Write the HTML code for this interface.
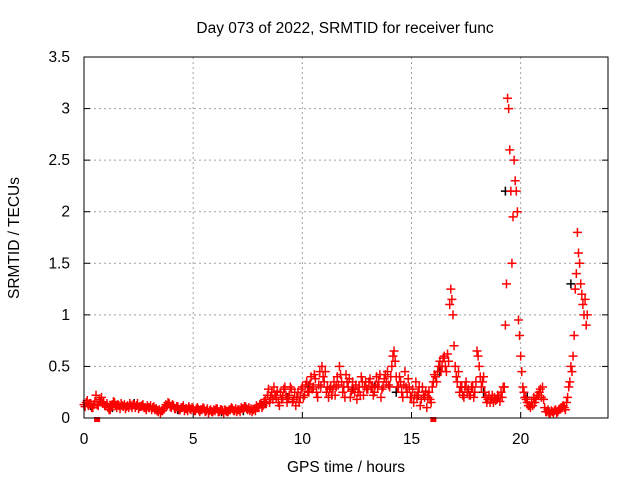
<!DOCTYPE html>
<html><head><meta charset="utf-8"><style>
body{margin:0;background:#fff;width:640px;height:480px;overflow:hidden}
svg text{font-family:"Liberation Sans",sans-serif;font-size:15.5px;fill:#000}
</style></head><body>
<svg id="chart" width="640" height="480">
<text x="345" y="33" text-anchor="middle">Day 073 of 2022, SRMTID for receiver func</text>
<text x="346" y="472" text-anchor="middle">GPS time / hours</text>
<text transform="translate(19,238) rotate(-90)" text-anchor="middle">SRMTID / TECUs</text>
<g id="grid"></g>
<g id="ticks"></g>
<g id="black"></g>
<g id="red"></g>
<rect x="84" y="57" width="524" height="361" fill="none" stroke="#000" stroke-width="1"/>
</svg>
<script>
const xTicks=[0,5,10,15,20];
const yTicks=[0,0.5,1,1.5,2,2.5,3,3.5];
const yTickLabels=["0","0.5","1","1.5","2","2.5","3","3.5"];
const redA=[0.13,0.15,0.12,0.14,0.1,0.16,0.13,0.18,0.2,0.15,
0.12,0.1,0.08,0.13,0.15,0.1,0.12,0.14,0.11,0.09,
0.12,0.14,0.1,0.13,0.12,0.09,0.11,0.13,0.1,0.12,
0.1,0.08,0.11,0.09,0.06,0.05,0.07,0.1,0.12,0.14,
0.1,0.12,0.09,0.11,0.08,0.1,0.07,0.09,0.11,0.08,
0.09,0.07,0.1,0.06,0.08,0.09,0.07,0.05,0.08,0.06,
0.07,0.09,0.06,0.08,0.05,0.07,0.06,0.08,0.09,0.07,
0.06,0.08,0.1,0.09,0.11,0.08,0.07,0.06,0.09,0.12,
0.1,0.14,0.12,0.18,0.22,0.15,0.25,0.3,0.2,0.15,
0.25,0.2,0.3,0.15,0.22,0.28,0.18,0.12,0.25,0.2,
0.3,0.22,0.35,0.25,0.4,0.3,0.38,0.2,0.45,0.5,
0.35,0.25,0.2,0.3,0.28,0.22,0.4,0.5,0.35,0.3,
0.42,0.3,0.2,0.35,0.25,0.18,0.3,0.4,0.22,0.35,
0.28,0.38,0.3,0.25,0.4,0.35,0.2,0.3,0.42,0.45,
0.3,0.5,0.65,0.4,0.3,0.35,0.2,0.45,0.25,0.3,
0.2,0.15,0.35,0.25,0.12,0.3,0.2,0.1,0.25,0.15,
0.35,0.4,0.45,0.55,0.5,0.6,0.45,0.55,1.25,1.0,
0.5,0.35,0.25,0.3,0.2,0.35,0.28,0.22,0.3,0.25,
0.65,0.5,0.3,0.4,0.2,0.18,0.15,0.22,0.2,0.18,
0.2,0.25,0.3,0.9,3.1,2.6,1.5,2.5,2.2,0.95,
0.6,0.3,0.2,0.15,0.12,0.15,0.2,0.18,0.22,0.28,
0.3,0.1,0.06,0.05,0.07,0.05,0.08,0.06,0.09,0.1,
0.1,0.15,0.3,0.5,0.6,1.25,1.8,1.5,1.2,1.0,0.9];
const redB=[0.11,0.17,0.14,0.1,0.13,0.22,0.12,0.16,0.14,0.12,
0.14,0.08,0.11,0.16,0.12,0.13,0.09,0.12,0.13,0.11,
0.1,0.12,0.13,0.1,0.14,0.11,0.12,0.1,0.08,0.1,
0.12,0.1,0.08,0.07,0.08,0.07,0.09,0.13,0.15,0.11,
0.13,0.09,0.11,0.08,0.1,0.12,0.09,0.07,0.09,0.1,
0.07,0.09,0.08,0.08,0.1,0.06,0.09,0.07,0.06,0.08,
0.09,0.06,0.08,0.07,0.08,0.06,0.08,0.1,0.07,0.09,
0.08,0.06,0.09,0.11,0.09,0.1,0.09,0.08,0.07,0.1,
0.13,0.1,0.16,0.14,0.28,0.2,0.18,0.22,0.26,0.12,
0.18,0.28,0.22,0.2,0.3,0.16,0.25,0.2,0.15,0.28,
0.2,0.32,0.26,0.33,0.28,0.42,0.25,0.32,0.3,0.4,
0.45,0.3,0.28,0.22,0.35,0.3,0.32,0.42,0.25,0.2,
0.35,0.38,0.26,0.28,0.32,0.25,0.22,0.35,0.3,0.28,
0.35,0.3,0.22,0.32,0.3,0.42,0.28,0.38,0.35,0.32,
0.4,0.6,0.55,0.3,0.4,0.25,0.32,0.3,0.38,0.2,
0.28,0.22,0.2,0.3,0.18,0.22,0.26,0.2,0.18,0.3,
0.42,0.35,0.5,0.45,0.58,0.5,0.62,1.1,1.15,0.7,
0.4,0.45,0.3,0.22,0.3,0.25,0.22,0.3,0.2,0.35,
0.6,0.4,0.35,0.25,0.15,0.22,0.18,0.15,0.17,0.22,
0.16,0.2,0.3,1.3,3.0,2.2,1.95,2.3,2.0,0.8,
0.45,0.25,0.18,0.12,0.1,0.12,0.15,0.22,0.25,0.2,
0.18,0.06,0.08,0.04,0.06,0.07,0.05,0.08,0.1,0.12,
0.08,0.2,0.35,0.45,0.8,1.4,1.6,1.3,1.1,1.15,1.0];
const blackVals=[0.12,0.1,0.14,0.09,0.08,0.07,0.06,0.07,0.15,0.2,0.3,0.3,0.28,0.3,0.25,0.22,0.45,0.3,0.25,2.2,0.2,0.06,1.3];
const outliers=[[0.6,-0.01],[16,-0.01]];
const X0=84,X1=608,Y0=418,Y1=57,XMAX=24,YMAX=3.5;
const sx=v=>X0+v/XMAX*(X1-X0);
const sy=v=>Y0-v/YMAX*(Y0-Y1);
const NS="http://www.w3.org/2000/svg";
function mk(tag,attrs,parent){const e=document.createElementNS(NS,tag);for(const k in attrs)e.setAttribute(k,attrs[k]);parent.appendChild(e);return e;}
const grid=document.getElementById('grid'),ticks=document.getElementById('ticks');
xTicks.forEach(t=>{
 const x=sx(t);
 if(t>0){const l=mk('line',{x1:x,x2:x,y1:Y1,y2:Y0,stroke:'#a0a0a0','stroke-dasharray':'2,3'},grid);
 
 }
 const tk=mk('line',{x1:x,x2:x,y1:Y0,y2:Y0-6,stroke:'#000'},ticks);
 
 
 const tx=mk('text',{x:x,y:444,'text-anchor':'middle'},ticks);tx.textContent=String(t);
 
 
});
yTicks.forEach((t,i)=>{
 const y=sy(t);
 if(t>0&&t<YMAX){const l=mk('line',{x1:X0,x2:X1,y1:y,y2:y,stroke:'#a0a0a0','stroke-dasharray':'2,3'},grid);
 
 }
 const tk=mk('line',{x1:X0,x2:X0+6,y1:y,y2:y,stroke:'#000'},ticks);
 
 
 const tk2=mk('line',{x1:X1,x2:X1-6,y1:y,y2:y,stroke:'#000'},ticks);
 
 
 const tx=mk('text',{x:70,y:y+5,'text-anchor':'end'},ticks);tx.textContent=yTickLabels[i];
 
 
});
function plus(g,t,v,col,name){
 const x=sx(t),y=sy(v);
 const p=mk('path',{d:`M${x-4.5},${y}h9M${x},${y-4.5}v9`,stroke:col,'stroke-width':1.5,fill:'none'},g);
 
 
}
const bg=document.getElementById('black'),rg=document.getElementById('red');
blackVals.forEach((v,i)=>plus(bg,i+0.3,v,'#000','black-point'));
redA.forEach((v,i)=>plus(rg,i*0.1,v,'#ff0000','red-point'));
redB.forEach((v,i)=>plus(rg,i*0.1+0.05,v,'#ff0000','red-point'));
outliers.forEach(o=>{const r=mk('rect',{x:sx(o[0])-3,y:sy(o[1])-2,width:6,height:5,fill:'#ff0000'},rg);
 
 });
</script>
</body></html>
